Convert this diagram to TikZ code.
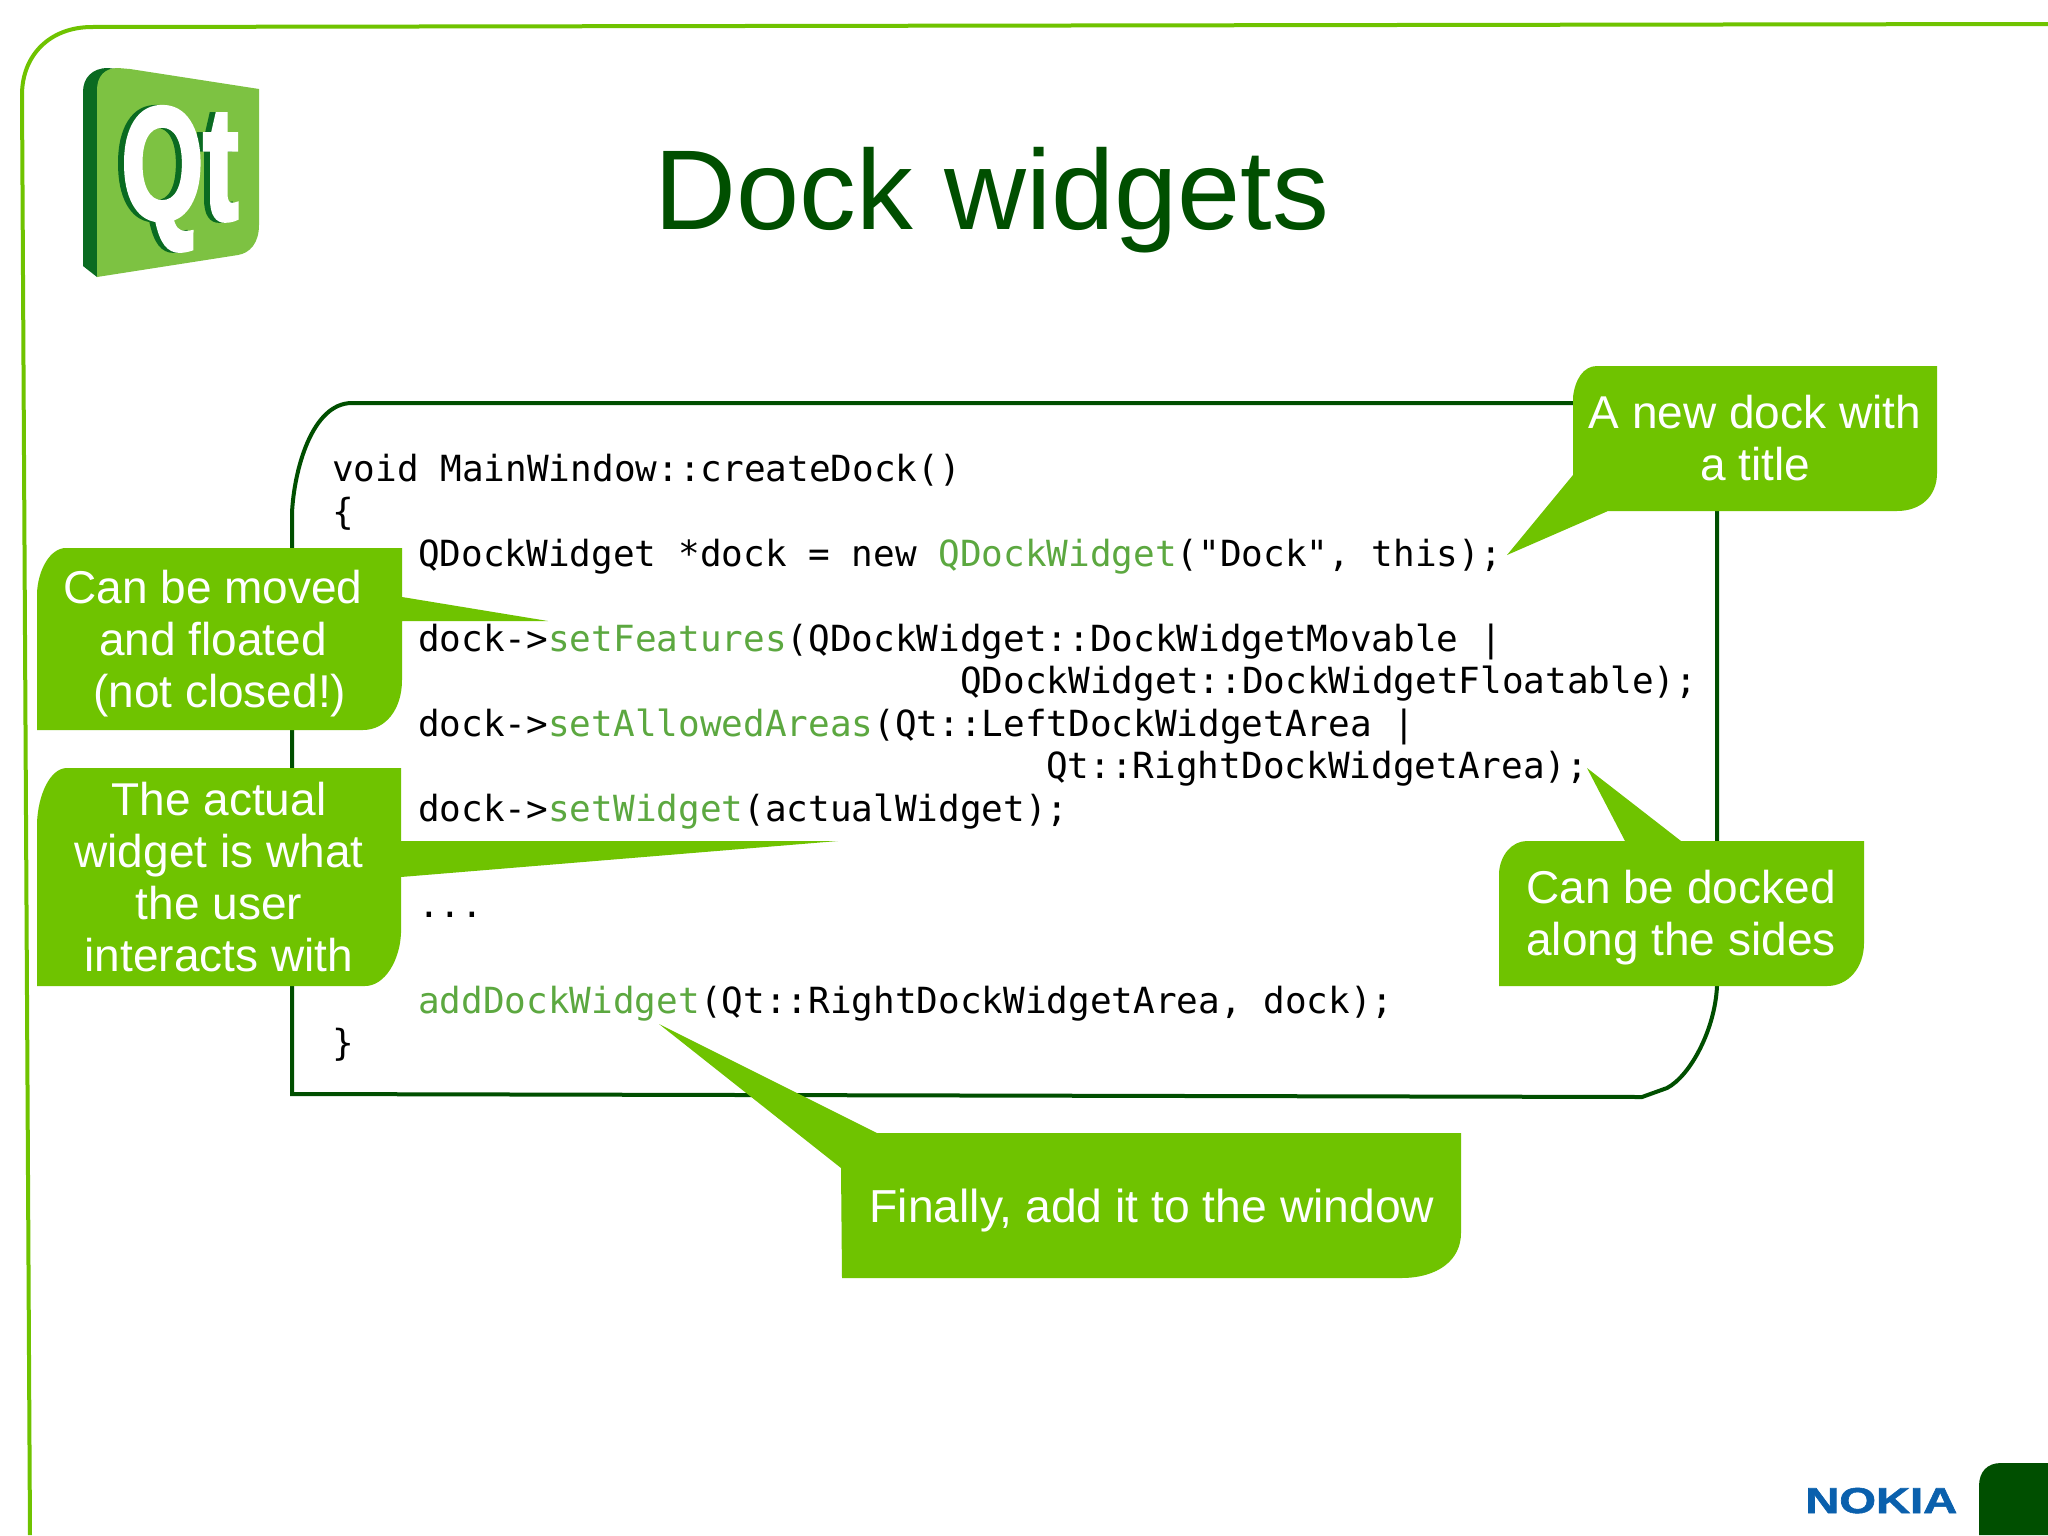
\documentclass[tikz,border=0pt]{standalone}
\usepackage{graphicx}
\usepackage{fontspec}
\setmainfont{Liberation Sans}
\newfontfamily\codefont{DejaVu Sans Mono}
\newfontfamily\logofont{Liberation Sans Bold}[FakeBold=3]
\newfontfamily\brandfont{Liberation Sans Bold}[FakeBold=1.5]
\definecolor{leaf}{RGB}{111,195,0}
\definecolor{forest}{RGB}{0,79,0}
\definecolor{codegreen}{RGB}{92,168,64}
\definecolor{qtlight}{RGB}{125,194,66}
\definecolor{qtdark}{RGB}{10,107,33}
\definecolor{nokiablue}{RGB}{10,96,173}
\newcommand{\hl}[1]{\textcolor{codegreen}{#1}}
\tikzset{
  code/.style={anchor=base west,inner sep=0pt,font=\codefont\fontsize{27}{32}\selectfont,text=black},
  bubble/.style={fill=leaf,draw=none},
  say/.style={inner sep=0pt,align=center,text=white,font=\fontsize{34.5}{39}\selectfont},
  qtglyph/.style={inner sep=0pt,anchor=base west,font=\logofont\fontsize{120}{120}\selectfont},
}
\begin{document}
\begin{tikzpicture}[x=0.75pt,y=-0.75pt]
\useasboundingbox (0,0) rectangle (2048,1535);
\fill[white] (0,0) rectangle (2048,1535);
% outer border
\draw[leaf,line width=3pt] (30,1535) -- (22,95) .. controls (22,55) and (50,27) .. (92,27) -- (2048,24);
% footer
\fill[forest] (2048,1463) -- (2001,1463) .. controls (1987,1463) and (1979,1472) .. (1979,1486) -- (1979,1535) -- (2048,1535) -- cycle;
\node (nokia) [inner sep=0pt,anchor=base west,text=nokiablue,font=\brandfont\fontsize{27}{27}\selectfont] at (1805,1513) {\scalebox{1.31}[1]{NOKIA}};
% Qt logo
\fill[qtdark] (83,92) .. controls (83,78) and (92,68) .. (108,68) -- (125,70) -- (97,277) -- (83,266) -- cycle;
\fill[qtlight] (97,277) -- (97,90) .. controls (97,76) and (105,68) .. (118,68) -- (130,69) -- (259,89) -- (259,225) .. controls (259,243) and (250,253) .. (238,255) -- cycle;
\node (qshadow) [qtglyph,text=qtdark] at (115,219) {\scalebox{.66}[1]{Q}};
\node (tshadow) [qtglyph,text=qtdark] at (197,219) {\scalebox{.66}[1]{t}};
\node (q) [qtglyph,text=white] at (121,219) {\scalebox{.66}[1]{Q}};
\node (t) [qtglyph,text=white] at (203,219) {\scalebox{.66}[1]{t}};
% title
\node (title) [inner sep=0pt,anchor=base,text=forest,font=\fontsize{85.1}{90}\selectfont] at (992,229) {Dock widgets};
% code frame
\draw[forest,line width=3pt] (352,403) -- (1717,403) -- (1717,986)
  .. controls (1715,1030) and (1690,1076) .. (1667,1088) -- (1642,1097) -- (292,1094) -- (292,513)
  .. controls (294,470) and (312,403) .. (352,403) -- cycle;
% code
\node (c1) [code] at (332,481.5) {void MainWindow::createDock()};
\node (c2) [code] at (332,524) {\{};
\node (c3) [code] at (418,566) {QDockWidget *dock = new \hl{QDockWidget}("Dock", this);};
\node (c4) [code] at (418,651) {dock->\hl{setFeatures}(QDockWidget::DockWidgetMovable |};
\node (c5) [code] at (960,693.5) {QDockWidget::DockWidgetFloatable);};
\node (c6) [code] at (418,736) {dock->\hl{setAllowedAreas}(Qt::LeftDockWidgetArea |};
\node (c7) [code] at (1046,778.5) {Qt::RightDockWidgetArea);};
\node (c8) [code] at (418,821) {dock->\hl{setWidget}(actualWidget);};
\node (c9) [code] at (418,917) {...};
\node (c10) [code] at (418,1013) {\hl{addDockWidget}(Qt::RightDockWidgetArea, dock);};
\node (c11) [code] at (332,1055.5) {\}};
% callouts
\fill[bubble] (1597,366) -- (1937,366) -- (1937,473) .. controls (1937,497) and (1920,511) .. (1897,511) -- (1608,511) -- (1507,555) -- (1573,475) -- (1573,397) .. controls (1575,380) and (1583,366) .. (1597,366) -- cycle;
\node (s1) [say] at (1755,444) {A new dock with\strut\\a title\strut};
\fill[bubble] (66,548) -- (402,548) -- (402,597) -- (548,621) -- (402,621) -- (402,680) .. controls (402,710) and (385,730) .. (363,730) -- (37,730) -- (37,593) .. controls (38,570) and (50,548) .. (66,548) -- cycle;
\node (s2) [say] at (213,645) {Can be moved\strut\\and floated\strut\\\hspace*{10pt}(not closed!)\strut};
\fill[bubble] (67,768) -- (401,768) -- (401,841) -- (838,841) -- (401,877) -- (401,933) .. controls (400,960) and (385,986) .. (365,986) -- (37,986) -- (37,823) .. controls (38,795) and (50,768) .. (67,768) -- cycle;
\node (s3) [say] at (219,883) {The actual\strut\\widget is what\strut\\the user\strut\\interacts with\strut};
\fill[bubble] (1527,841) -- (1625,841) -- (1587,768) -- (1681,841) -- (1864,841) -- (1864,943) .. controls (1864,968) and (1848,986) .. (1827,986) -- (1499,986) -- (1499,873) .. controls (1500,855) and (1512,841) .. (1527,841) -- cycle;
\node (s4) [say] at (1681,919) {Can be docked\strut\\along the sides\strut};
\fill[bubble] (877,1133) -- (1461,1133) -- (1461,1233) .. controls (1461,1260) and (1438,1278) .. (1401,1278) -- (842,1278) -- (841,1168) -- (659,1024) -- cycle;
\node (s5) [say,font=\fontsize{34.7}{39}\selectfont] at (1152,1212) {Finally, add it to the window\strut};
\end{tikzpicture}
\end{document}
